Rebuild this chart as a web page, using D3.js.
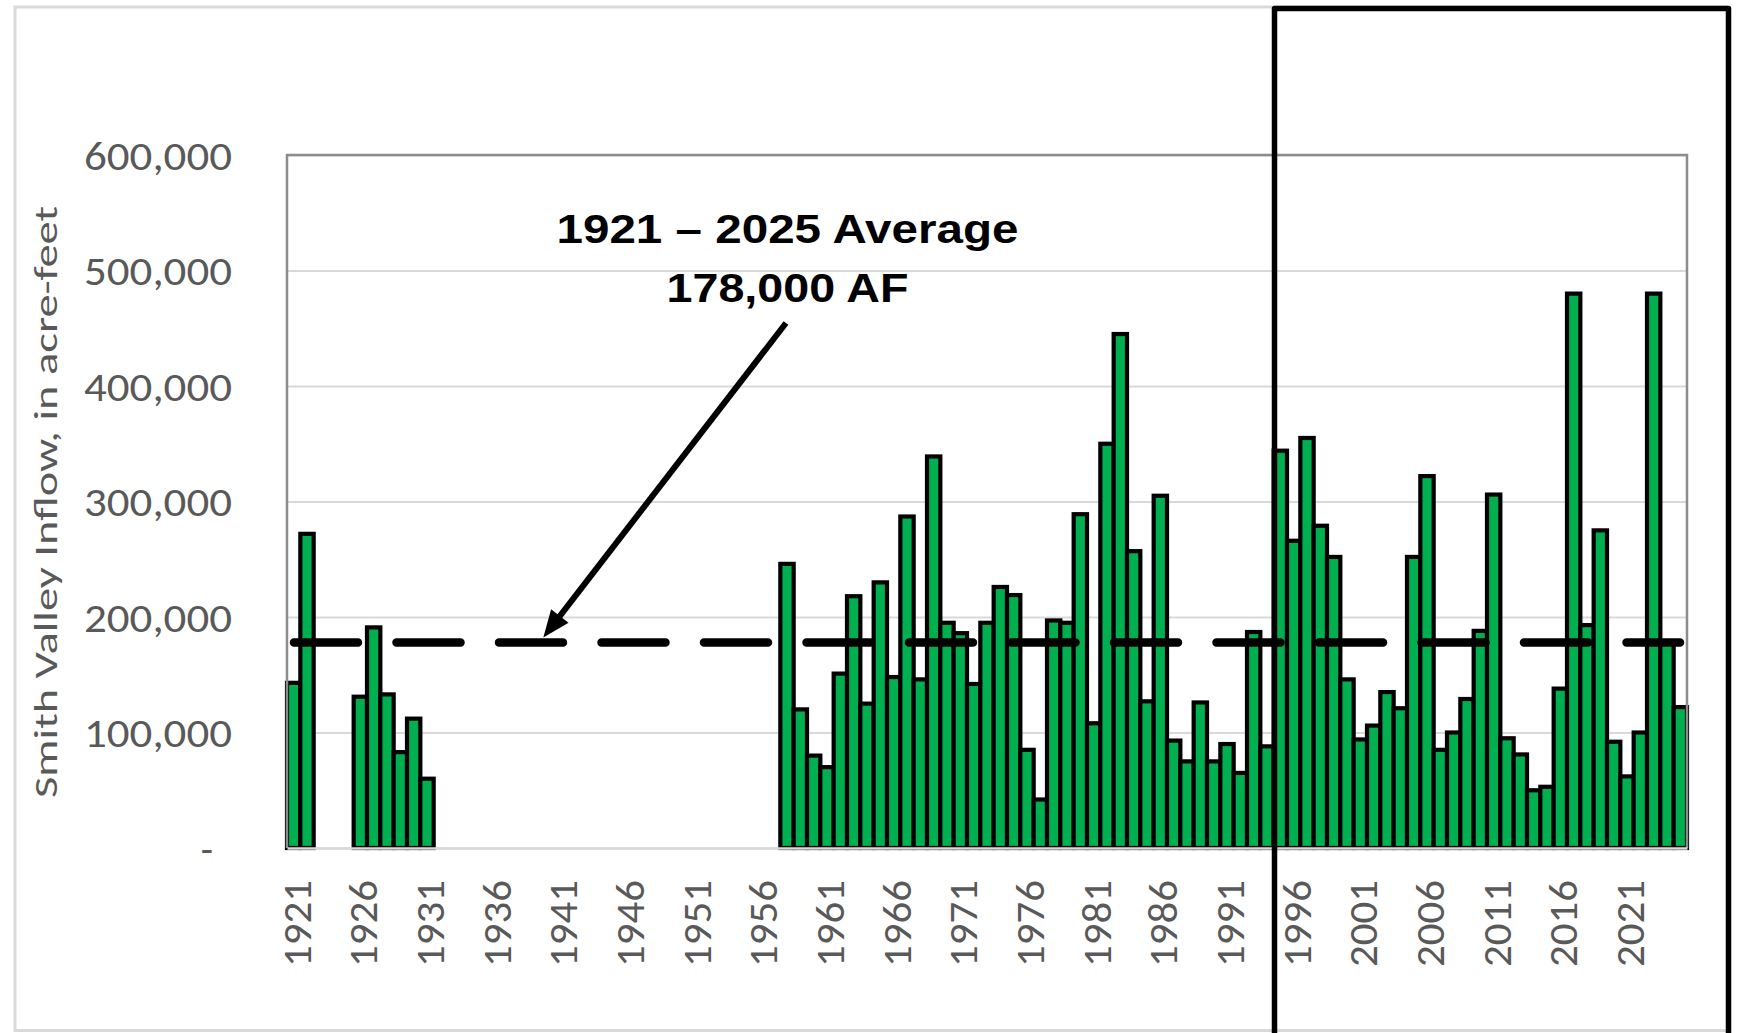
<!DOCTYPE html>
<html>
<head>
<meta charset="utf-8">
<script src="https://cdn.jsdelivr.net/npm/d3@7"></script>
<style>
  html, body { margin: 0; padding: 0; background: #ffffff; }
  svg { display: block; }
</style>
</head>
<body>
<svg></svg>
<script>
// water years on the category axis
let years = d3.range(1921, 2026)

// Smith Valley inflow, acre-feet (null = no record)
let inflow = [
    143000, 272000, null, null, null, 131000, 191000, 133000, 83000, 112000,   // 1921-1930
    60000, null, null, null, null, null, null, null, null, null,                // 1931-1940
    null, null, null, null, null, null, null, null, null, null,                 // 1941-1950
    null, null, null, null, null, null, null, 246000, 120000, 80000,            // 1951-1960
    70000, 151000, 218000, 125000, 230000, 148000, 287000, 146000, 339000, 195000, // 1961-1970
    186000, 142000, 195000, 226000, 219000, 85000, 42000, 197000, 195000, 289000,  // 1971-1980
    108000, 350000, 445000, 257000, 127000, 305000, 93000, 75000, 126000, 75000,   // 1981-1990
    90000, 65000, 187000, 88000, 344000, 266000, 355000, 279000, 252000, 146000,   // 1991-2000
    94000, 106000, 135000, 121000, 252000, 322000, 85000, 100000, 129000, 188000,  // 2001-2010
    306000, 95000, 81000, 50000, 53000, 138000, 480000, 193000, 275000, 92000,     // 2011-2020
    62000, 100000, 480000, 177000, 122000                                          // 2021-2025
]

let averageValue = 178000
let averageLines = ['1921 \u2013 2025 Average', '178,000 AF']

let xTickYears = [1921, 1926, 1931, 1936, 1941, 1946, 1951, 1956, 1961, 1966, 1971,
                  1976, 1981, 1986, 1991, 1996, 2001, 2006, 2011, 2016, 2021]
let yTicks = [0, 100000, 200000, 300000, 400000, 500000, 600000]
let yTitle = 'Smith Valley Inflow, in acre-feet'

let width = 1742
let height = 1033
let plotLeft = 287
let plotRight = 1687
let plotTop = 155
let plotBottom = 848

let tickFont = 'Calibri, Carlito, Lato, sans-serif'
let tickColor = '#595959'

let svg = d3.select('svg')
            .attr('width', width)
            .attr('height', height)

let xScale = d3.scaleBand()
               .domain(years)
               .range([plotLeft, plotRight])
               .padding(0)

let yScale = d3.scaleLinear()
               .domain([0, 600000])
               .range([plotBottom, plotTop])

let rows = years.map((yr, i) => ({ year: yr, value: inflow[i] }))
                .filter(d => d.value !== null)

// outer light frame
svg.append('rect')
   .attr('x', 15)
   .attr('y', 7)
   .attr('width', 1713)
   .attr('height', 1023.5)
   .attr('fill', 'none')
   .attr('stroke', '#d9d9d9')
   .attr('stroke-width', 3)

// gridlines
let grid = svg.append('g')
              .attr('transform', 'translate(' + plotLeft + ',0)')
              .call(d3.axisLeft(yScale)
                      .tickValues(yTicks)
                      .tickSize(-(plotRight - plotLeft))
                      .tickFormat(''))
grid.select('.domain').remove()
grid.selectAll('line')
    .attr('stroke', '#d9d9d9')
    .attr('stroke-width', 2)

// bars
svg.append('g')
   .selectAll('rect')
   .data(rows)
   .enter()
   .append('rect')
   .attr('x', d => xScale(d.year))
   .attr('y', d => yScale(d.value))
   .attr('width', xScale.bandwidth())
   .attr('height', d => plotBottom - yScale(d.value))
   .attr('fill', '#00b050')
   .attr('stroke', '#000000')
   .attr('stroke-width', 4.2)

// plot frame (top, left, right)
svg.append('path')
   .attr('d', 'M' + plotLeft + ',' + plotBottom + 'V' + plotTop + 'H' + plotRight + 'V' + plotBottom)
   .attr('fill', 'none')
   .attr('stroke', '#8c8c8c')
   .attr('stroke-width', 2.5)

// x axis
let xAxis = svg.append('g')
               .attr('transform', 'translate(0,' + plotBottom + ')')
               .call(d3.axisBottom(xScale)
                       .tickValues(xTickYears)
                       .tickSize(0))
xAxis.select('.domain')
     .attr('stroke', '#d9d9d9')
     .attr('stroke-width', 2.5)
xAxis.selectAll('text')
     .attr('x', 0)
     .attr('y', 0)
     .attr('dy', '0.36em')
     .attr('transform', 'translate(2,32) rotate(-90)')
     .attr('text-anchor', 'end')
     .attr('font-family', tickFont)
     .attr('font-size', 42)
     .attr('fill', tickColor)
     .attr('textLength', 87)
     .attr('lengthAdjust', 'spacingAndGlyphs')

// y axis labels
let yAxis = svg.append('g')
               .attr('transform', 'translate(' + plotLeft + ',0)')
               .call(d3.axisLeft(yScale)
                       .tickValues(yTicks)
                       .tickSize(0)
                       .tickPadding(55)
                       .tickFormat(d => d === 0 ? '-' : d3.format(',')(d)))
yAxis.select('.domain').remove()
yAxis.selectAll('text')
     .attr('font-family', tickFont)
     .attr('font-size', 40)
     .attr('fill', tickColor)
     .attr('x', d => d === 0 ? -74 : -55)
     .attr('dy', '0.36em')
yAxis.selectAll('text')
     .filter(d => d !== 0)
     .attr('textLength', 148)
     .attr('lengthAdjust', 'spacingAndGlyphs')

// y title
svg.append('text')
   .attr('transform', 'translate(57,502) rotate(-90)')
   .attr('text-anchor', 'middle')
   .attr('font-family', tickFont)
   .attr('font-size', 33)
   .attr('fill', tickColor)
   .attr('textLength', 592)
   .attr('lengthAdjust', 'spacingAndGlyphs')
   .text(yTitle)

// average line
svg.append('line')
   .attr('x1', xScale(years[0]) + 7)
   .attr('x2', plotRight - 7)
   .attr('y1', yScale(averageValue))
   .attr('y2', yScale(averageValue))
   .attr('stroke', '#000000')
   .attr('stroke-width', 8.5)
   .attr('stroke-linecap', 'round')
   .attr('stroke-dasharray', '64 38.5')

// annotation text
let note = svg.append('g')
              .attr('font-family', '"Liberation Sans", Arial, sans-serif')
              .attr('font-weight', 'bold')
              .attr('font-size', 41)
              .attr('fill', '#000000')
              .attr('text-anchor', 'middle')
note.append('text')
    .attr('x', 787.5)
    .attr('y', 243)
    .attr('textLength', 462)
    .attr('lengthAdjust', 'spacingAndGlyphs')
    .text(averageLines[0])
note.append('text')
    .attr('x', 787.5)
    .attr('y', 302)
    .attr('textLength', 242)
    .attr('lengthAdjust', 'spacingAndGlyphs')
    .text(averageLines[1])

// arrow from the note to the average line
let arrowStart = [786, 323]
let arrowTip = [xScale(1940) + 3, yScale(averageValue) - 5]
let dx = arrowTip[0] - arrowStart[0]
let dy = arrowTip[1] - arrowStart[1]
let len = Math.sqrt(dx * dx + dy * dy)
let ux = dx / len
let uy = dy / len
let headLen = 27
let headHalf = 11
let baseX = arrowTip[0] - ux * headLen
let baseY = arrowTip[1] - uy * headLen

svg.append('line')
   .attr('x1', arrowStart[0])
   .attr('y1', arrowStart[1])
   .attr('x2', arrowTip[0] - ux * 20)
   .attr('y2', arrowTip[1] - uy * 20)
   .attr('stroke', '#000000')
   .attr('stroke-width', 6)

svg.append('path')
   .attr('d', 'M' + arrowTip[0] + ',' + arrowTip[1] +
              'L' + (baseX - uy * headHalf) + ',' + (baseY + ux * headHalf) +
              'L' + (baseX + uy * headHalf) + ',' + (baseY - ux * headHalf) + 'Z')
   .attr('fill', '#000000')

// highlight box around the recent years
svg.append('path')
   .attr('d', 'M1274.5,1040V8.5H1728.5V1040')
   .attr('fill', 'none')
   .attr('stroke', '#000000')
   .attr('stroke-width', 5.5)
   .attr('stroke-linejoin', 'round')
</script>
</body>
</html>
